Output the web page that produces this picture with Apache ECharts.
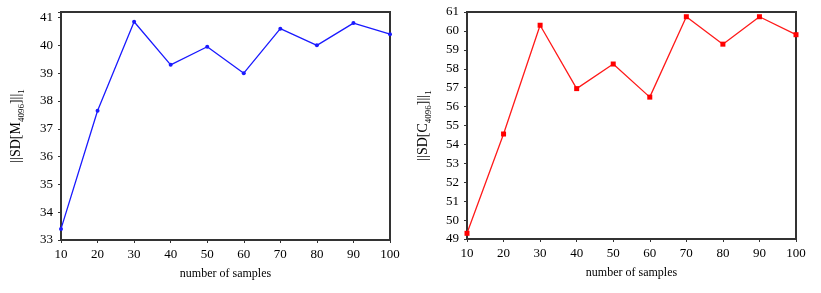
<!DOCTYPE html>
<html><head><meta charset="utf-8">
<script src="https://cdn.jsdelivr.net/npm/echarts@6/dist/echarts.min.js"></script>
<style>html,body{margin:0;padding:0;background:#fff}#c{width:821px;height:293px}</style>
</head><body><div id="c"></div>
<script>
const samples = ['10','20','30','40','50','60','70','80','90','100'];
const sdM = [33.4, 37.65, 40.85, 39.3, 39.95, 39.0, 40.6, 40.0, 40.8, 40.4];
const sdC = [49.3, 54.55, 60.3, 56.95, 58.25, 56.5, 60.75, 59.3, 60.75, 59.8];

const font = 'Liberation Serif';
const chart = echarts.init(document.getElementById('c'), null, {renderer:'canvas'});
function xAxis(gi){
  return {type:'category', gridIndex:gi, data:samples, boundaryGap:false,
    name:'number of samples', nameLocation:'middle', nameGap:28,
    nameTextStyle:{fontFamily:font, fontSize:12, color:'#000'},
    axisLine:{lineStyle:{color:'#333', width:2}},
    axisTick:{show:true, length:3, lineStyle:{color:'#333'}},
    axisLabel:{fontFamily:font, fontSize:13, color:'#000', margin:8},
    splitLine:{show:false}};
}
function yAxis(gi, min, max, name){
  return {type:'value', gridIndex:gi, min:min, max:max, interval:1,
    name:name, nameLocation:'middle', nameGap:gi===0?38:37, nameRotate:90,
    nameTextStyle:{fontFamily:font, fontSize:14, color:'#000',
      rich:{m:{fontFamily:font,fontSize:14,color:'#000',lineHeight:14,verticalAlign:'top'},
            s:{fontFamily:font,fontSize:9,color:'#000',lineHeight:9,verticalAlign:'top',padding:[8,0,0,0]}}},
    axisLine:{show:true, lineStyle:{color:'#333', width:2}},
    axisTick:{show:true, length:3, lineStyle:{color:'#333'}},
    axisLabel:{fontFamily:font, fontSize:13, color:'#000', margin:8,
      formatter:v=> Math.abs(v-Math.round(v))<1e-6 ? String(Math.round(v)) : ''},
    splitLine:{show:false}};
}
chart.setOption({
  animation:false,
  grid:[
    {left:61, right:431, top:12, bottom:53, show:true, borderColor:'#333', borderWidth:2},
    {left:467, right:25, top:12, bottom:54, show:true, borderColor:'#333', borderWidth:2}
  ],
  xAxis:[xAxis(0), xAxis(1)],
  yAxis:[yAxis(0,33,41.2,'{m|||SD[M}{s|4096}{m|]||}{s|1}'), yAxis(1,49,61,'{m|||SD[C}{s|4096}{m|]||}{s|1}')],
  series:[
    {type:'line', xAxisIndex:0, yAxisIndex:0, data:sdM, symbol:'circle', symbolSize:4,
      lineStyle:{color:'#1a1aff', width:1.3}, itemStyle:{color:'#1a1aff'}},
    {type:'line', xAxisIndex:1, yAxisIndex:1, data:sdC, symbol:'rect', symbolSize:5,
      lineStyle:{color:'#ff1a1a', width:1.3}, itemStyle:{color:'#ff0000'}}
  ]
});
</script></body></html>
